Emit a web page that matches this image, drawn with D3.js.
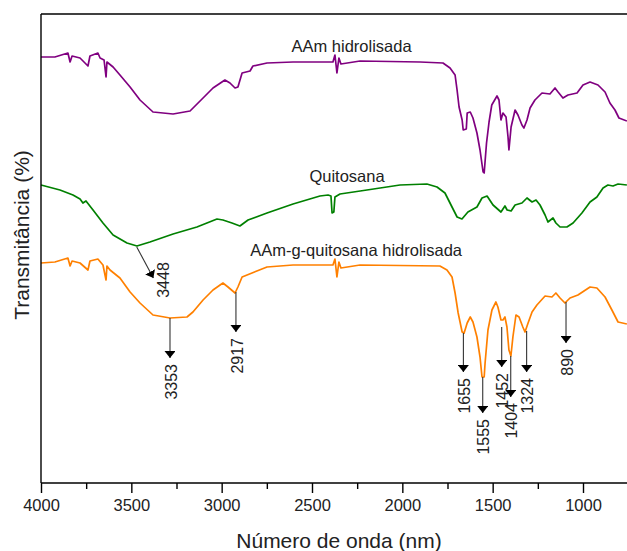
<!DOCTYPE html>
<html>
<head>
<meta charset="utf-8">
<script src="https://cdn.jsdelivr.net/npm/d3@7"></script>
<style>
  body { margin: 0; background: #fff; }
  svg { display: block; font-family: Arial, "Liberation Sans", sans-serif; }
</style>
</head>
<body>
<div id="chart"></div>
<script>
// wavenumber (cm-1) and transmittance (arbitrary offset units)
const aamWn = [4000, 3923, 3851, 3839, 3828, 3784, 3740, 3729, 3685, 3673, 3651, 3640, 3635, 3601, 3563, 3507, 3452, 3380, 3269, 3175, 3103, 3048, 2982, 2954, 2926, 2910, 2887, 2843, 2827, 2749, 2605, 2384, 2373, 2362, 2351, 2340, 2234, 1902, 1775, 1736, 1708, 1697, 1686, 1669, 1663, 1646, 1641, 1624, 1609, 1587, 1570, 1553, 1547, 1534, 1520, 1505, 1476, 1465, 1454, 1443, 1426, 1415, 1410, 1398, 1376, 1360, 1338, 1327, 1310, 1293, 1266, 1227, 1183, 1155, 1138, 1111, 1083, 1033, 1000, 961, 917, 878, 851, 823, 801, 757];
const aamT  = [426, 426, 430, 421, 427, 425, 417, 427, 430, 425, 423, 406, 421, 416, 408, 396, 383, 371, 369, 372, 385, 395, 403, 400, 395, 396, 410, 412, 417, 420, 421, 421, 428, 410, 425, 419, 422, 421, 420, 415, 408, 393, 376, 363, 353, 354, 370, 371, 365, 350, 333, 311, 310, 340, 361, 378, 387, 383, 363, 370, 366, 346, 333, 356, 373, 368, 358, 355, 363, 375, 383, 390, 389, 395, 391, 385, 388, 390, 398, 401, 398, 391, 380, 373, 365, 362];

const quitWn = [4000, 3895, 3823, 3784, 3768, 3751, 3712, 3657, 3601, 3524, 3469, 3397, 3269, 3137, 3026, 2993, 2943, 2899, 2854, 2749, 2605, 2456, 2411, 2395, 2389, 2379, 2373, 2345, 2196, 2013, 1864, 1808, 1764, 1725, 1697, 1670, 1637, 1587, 1559, 1531, 1498, 1454, 1432, 1420, 1398, 1376, 1338, 1310, 1282, 1260, 1238, 1210, 1194, 1166, 1150, 1127, 1089, 1055, 1006, 961, 923, 889, 862, 834, 806, 757];
const quitT  = [298, 293, 288, 284, 280, 282, 273, 260, 248, 240, 237, 241, 249, 256, 264, 263, 260, 257, 263, 270, 279, 287, 288, 287, 270, 271, 286, 289, 293, 298, 299, 296, 290, 276, 266, 264, 271, 276, 285, 287, 278, 271, 277, 273, 272, 278, 280, 285, 281, 283, 278, 268, 261, 265, 260, 256, 256, 260, 270, 281, 286, 295, 298, 297, 299, 298];

const graftWn = [4000, 3923, 3851, 3839, 3828, 3784, 3740, 3729, 3685, 3657, 3640, 3635, 3618, 3563, 3507, 3452, 3380, 3286, 3192, 3159, 3103, 3048, 2993, 2965, 2926, 2910, 2887, 2832, 2749, 2605, 2384, 2373, 2362, 2351, 2340, 2234, 1792, 1753, 1725, 1708, 1691, 1669, 1658, 1641, 1624, 1609, 1587, 1570, 1559, 1547, 1542, 1526, 1504, 1482, 1471, 1454, 1443, 1432, 1421, 1410, 1399, 1388, 1371, 1354, 1333, 1321, 1304, 1282, 1255, 1210, 1172, 1150, 1127, 1100, 1072, 1028, 961, 923, 878, 840, 806, 757];
const graftT  = [220, 221, 225, 217, 222, 220, 213, 222, 224, 218, 203, 217, 213, 205, 191, 180, 168, 165, 166, 171, 183, 193, 200, 196, 190, 196, 206, 210, 216, 218, 218, 224, 206, 221, 215, 218, 217, 213, 206, 190, 170, 151, 150, 160, 166, 161, 146, 126, 106, 106, 120, 153, 173, 181, 176, 163, 163, 166, 156, 133, 127, 146, 168, 166, 156, 151, 160, 171, 178, 187, 186, 190, 185, 180, 185, 188, 196, 195, 186, 173, 161, 159];

const seriesNames = ['AAm hidrolisada', 'Quitosana', 'AAm-g-quitosana hidrolisada'];
const seriesColors = ['#800080', '#008000', '#ff8000'];
const seriesLabelWn = [2281, 2306, 2256];
const seriesLabelT = [431, 301, 227];

const majorTicks = [4000, 3500, 3000, 2500, 2000, 1500, 1000];
const minorTicks = [3750, 3250, 2750, 2250, 1750, 1250, 750];

// peak annotations: label, arrow start (wn, T), arrow tip (wn, T)
const peaks = [
    { text: '3448', wn: 3470, from: 236, toWn: 3378, to: 205 },
    { text: '3353', wn: 3286, from: 165, toWn: 3286, to: 125 },
    { text: '2917', wn: 2921, from: 191, toWn: 2921, to: 151 },
    { text: '1655', wn: 1662, from: 150, toWn: 1662, to: 111 },
    { text: '1555', wn: 1555, from: 106, toWn: 1555, to: 70 },
    { text: '1452', wn: 1450, from: 156, toWn: 1450, to: 116 },
    { text: '1404', wn: 1400, from: 127, toWn: 1400, to: 86 },
    { text: '1324', wn: 1312, from: 152, toWn: 1312, to: 111 },
    { text: '890', wn: 1094, from: 181, toWn: 1094, to: 140 }
];

const width = 627;
const height = 551;
const margin = { top: 14, left: 41, bottom: 68 };

const svg = d3.select('#chart')
    .append('svg')
    .attr('width', width)
    .attr('height', height);

const x = d3.scaleLinear()
    .domain([4000, 1000])
    .range([margin.left, 583]);

const y = d3.scaleLinear()
    .domain([0, 469])
    .range([height - margin.bottom, margin.top]);

const defs = svg.append('defs');
defs.append('marker')
    .attr('id', 'head')
    .attr('viewBox', '0 0 10 10')
    .attr('refX', 10)
    .attr('refY', 5)
    .attr('markerUnits', 'userSpaceOnUse')
    .attr('markerWidth', 7)
    .attr('markerHeight', 11)
    .attr('orient', 'auto')
    .attr('preserveAspectRatio', 'none')
    .append('path')
    .attr('d', 'M0,0 L10,5 L0,10 Z')
    .attr('fill', '#000');

// curves
const series = [
    { wn: aamWn, t: aamT },
    { wn: quitWn, t: quitT },
    { wn: graftWn, t: graftT }
];

const line = d3.line()
    .x(d => x(d[0]))
    .y(d => y(d[1]));

series.forEach((s, i) => {
    svg.append('path')
        .datum(s.wn.map((w, j) => [w, s.t[j]]))
        .attr('fill', 'none')
        .attr('stroke', seriesColors[i])
        .attr('stroke-width', 1.7)
        .attr('stroke-linejoin', 'round')
        .attr('d', line);

    svg.append('text')
        .attr('x', x(seriesLabelWn[i]))
        .attr('y', y(seriesLabelT[i]))
        .attr('text-anchor', 'middle')
        .attr('font-size', '16.5px')
        .attr('fill', '#222')
        .text(seriesNames[i]);
});

// arrows and peak labels
const ann = svg.append('g');
peaks.forEach(p => {
    ann.append('line')
        .attr('x1', x(p.wn))
        .attr('y1', y(p.from))
        .attr('x2', x(p.toWn))
        .attr('y2', y(p.to))
        .attr('stroke', '#333')
        .attr('stroke-width', 1.1)
        .attr('marker-end', 'url(#head)');

    const tx = x(p.toWn);
    const ty = y(p.to);
    const diagonal = p.toWn !== p.wn;
    ann.append('text')
        .attr('transform', diagonal
            ? `translate(${tx + 10},${ty + 2}) rotate(-90)`
            : `translate(${tx + 1},${ty + 6}) rotate(-90)`)
        .attr('text-anchor', diagonal ? 'middle' : 'end')
        .attr('dy', '0.35em')
        .attr('font-size', '16px')
        .attr('fill', '#222')
        .text(p.text);
});

// frame
svg.append('line')
    .attr('x1', margin.left).attr('x2', width)
    .attr('y1', margin.top).attr('y2', margin.top)
    .attr('stroke', '#000').attr('stroke-width', 1.4);

svg.append('line')
    .attr('x1', margin.left).attr('x2', margin.left)
    .attr('y1', margin.top).attr('y2', height - margin.bottom)
    .attr('stroke', '#000').attr('stroke-width', 1.4);

const xAxis = svg.append('g')
    .attr('transform', `translate(0,${height - margin.bottom})`)
    .call(d3.axisBottom(x)
        .tickValues(majorTicks)
        .tickSize(10)
        .tickPadding(6)
        .tickFormat(d3.format('d')));

xAxis.select('.domain')
    .attr('d', `M${margin.left},0H${width}`)
    .attr('stroke-width', 1.4);
xAxis.selectAll('.tick line').attr('stroke-width', 1.4);
xAxis.selectAll('text')
    .attr('font-size', '16.5px')
    .attr('fill', '#222')
    .attr('font-family', 'Arial, "Liberation Sans", sans-serif');

svg.append('g')
    .attr('transform', `translate(0,${height - margin.bottom})`)
    .call(d3.axisBottom(x)
        .tickValues(minorTicks)
        .tickSize(6)
        .tickFormat(''))
    .call(g => g.select('.domain').remove())
    .selectAll('.tick line').attr('stroke-width', 1.4);

// axis titles
svg.append('text')
    .attr('x', 339)
    .attr('y', 548)
    .attr('text-anchor', 'middle')
    .attr('font-size', '21px')
    .attr('fill', '#222')
    .text('Número de onda (nm)');

svg.append('text')
    .attr('transform', 'translate(29,235) rotate(-90)')
    .attr('text-anchor', 'middle')
    .attr('font-size', '21px')
    .attr('fill', '#222')
    .text('Transmitância (%)');
</script>
</body>
</html>
